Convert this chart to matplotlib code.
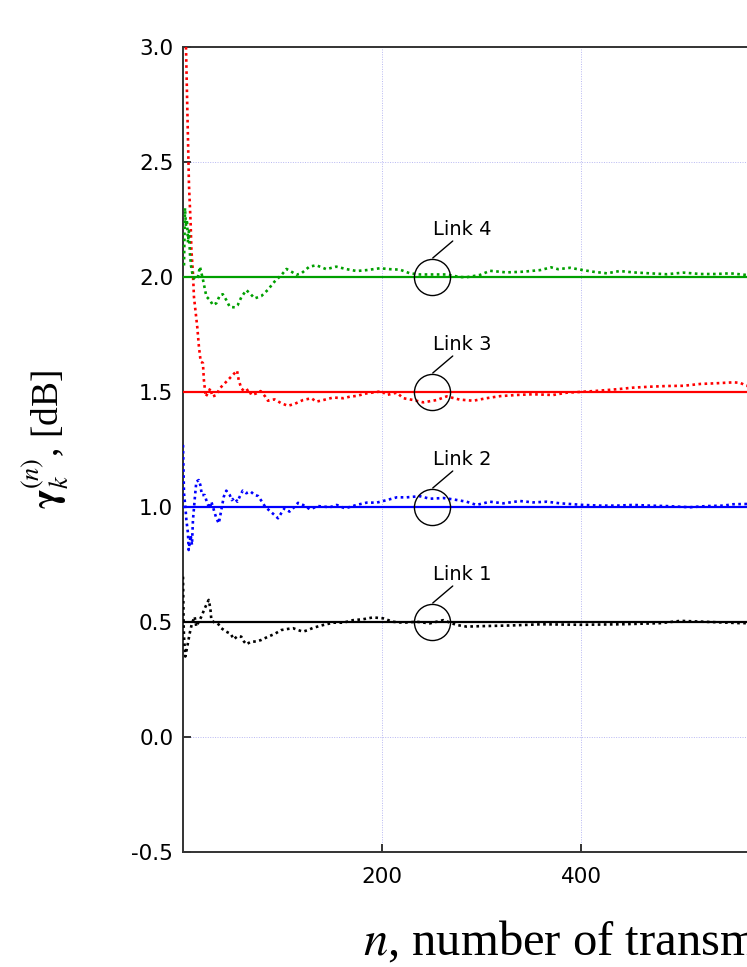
import matplotlib
matplotlib.use("Agg")
import matplotlib.pyplot as plt
from matplotlib.transforms import ScaledTranslation

# ---------------- data ----------------
link4_x = [1, 2, 3, 4, 5, 6, 7, 8, 10, 12, 15, 17, 20, 23.5, 27, 30, 33.5, 37, 40, 43.5, 47, 52, 55, 58.6,
           63.6, 67, 72, 78.7, 85, 92, 99, 104, 109, 114, 119, 127, 134, 144, 154, 164.5, 174.5, 184.6, 198,
           208, 218, 228, 238, 251.6, 265, 278, 285, 298.5, 308.5, 325, 342, 359, 370, 377, 389, 402, 412,
           426, 439, 452.5, 469, 486, 503, 520, 536, 550, 566, 575]
link4_y = [2.05, 2.30, 2.22, 2.25, 2.15, 2.20, 2.10, 2.05, 2.00, 1.99, 2.00, 2.045, 1.99, 1.915, 1.90, 1.878,
           1.886, 1.92, 1.925, 1.90, 1.87, 1.868, 1.878, 1.912, 1.943, 1.93, 1.907, 1.917, 1.943, 1.98, 2.009,
           2.035, 2.023, 2.01, 2.016, 2.045, 2.051, 2.034, 2.045, 2.034, 2.026, 2.03, 2.038, 2.034, 2.032,
           2.016, 2.011, 2.011, 2.011, 2.0, 1.999, 2.009, 2.027, 2.02, 2.023, 2.03, 2.042, 2.034, 2.04, 2.03,
           2.023, 2.016, 2.026, 2.02, 2.016, 2.012, 2.019, 2.013, 2.013, 2.016, 2.009, 2.008]

link3_x = [3, 6, 7.7, 8.4, 10, 11, 14.4, 16, 17.8, 20, 21, 22.8, 25, 27.5, 29.5, 33.5, 37, 42, 48.5, 54.3, 56,
           58.6, 62, 66, 68.7, 73.7, 78, 82.7, 85.4, 92, 98.8, 105.5, 112, 120.6, 129, 134, 141, 151, 161, 168,
           174.5, 184.6, 199.7, 204.7, 214.8, 221.4, 231.5, 241.5, 255, 265, 278, 291.7, 305, 318.6, 335, 352,
           372, 385.6, 402, 419, 436, 452.5, 469, 486, 503, 520, 536, 553, 560, 566, 575]
link3_y = [3.00, 2.40, 2.23, 2.12, 2.016, 1.914, 1.78, 1.697, 1.632, 1.626, 1.552, 1.48, 1.495, 1.516, 1.48,
           1.487, 1.516, 1.538, 1.567, 1.593, 1.552, 1.516, 1.501, 1.512, 1.487, 1.494, 1.504, 1.48, 1.462,
           1.468, 1.451, 1.44, 1.448, 1.465, 1.473, 1.458, 1.465, 1.476, 1.473, 1.48, 1.483, 1.494, 1.503,
           1.487, 1.497, 1.473, 1.465, 1.455, 1.465, 1.481, 1.467, 1.462, 1.473, 1.482, 1.487, 1.49, 1.487,
           1.497, 1.501, 1.506, 1.512, 1.519, 1.523, 1.526, 1.527, 1.535, 1.538, 1.542, 1.54, 1.527, 1.525]

link2_x = [0, 0.5, 1, 2.4, 3.4, 5, 5.7, 7.7, 9, 10, 12, 13.4, 15.8, 17.4, 19, 21.8, 24.4, 26.8, 28.5, 31, 33.5,
           36, 38.5, 41, 43.5, 47, 49, 52, 54.6, 57, 60, 63.6, 68, 72, 75.4, 79.4, 82.7, 87, 92, 95.5, 99, 102,
           107, 112, 115.6, 120.6, 127.6, 135.7, 147.7, 154.5, 162.8, 174.5, 184.6, 194.7, 204.7, 214.8, 224.8,
           238, 248, 261.6, 271.7, 285, 295, 308.5, 322, 338.7, 352, 365.5, 379, 402, 419, 436, 452.5, 469,
           486, 509.5, 526, 543, 553, 566, 575]
link2_y = [1.27, 1.16, 1.06, 1.0, 0.943, 0.886, 0.813, 0.878, 0.835, 0.943, 1.045, 1.11, 1.117, 1.096, 1.052,
           1.052, 1.016, 0.994, 1.023, 0.987, 0.951, 0.929, 0.987, 1.045, 1.071, 1.052, 1.03, 1.04, 1.023,
           1.045, 1.071, 1.06, 1.067, 1.052, 1.048, 1.023, 1.0, 0.984, 0.965, 0.951, 0.975, 0.994, 0.98, 1.0,
           1.018, 1.009, 0.99, 1.004, 0.999, 1.009, 0.994, 1.009, 1.019, 1.019, 1.03, 1.042, 1.042, 1.047,
           1.036, 1.039, 1.033, 1.023, 1.009, 1.023, 1.016, 1.026, 1.02, 1.023, 1.016, 1.009, 1.006, 1.006,
           1.009, 1.006, 1.004, 0.999, 1.004, 1.006, 1.012, 1.013, 1.012]

link1_x = [0, 0.3, 0.6, 1, 2.3, 4.3, 6.7, 9, 11.7, 13.4, 15.8, 18.4, 21.8, 25.8, 27.5, 28.5, 31.8, 35, 38.5,
           43.5, 48, 51, 55, 58.6, 61.3, 63.6, 68.6, 73.7, 78.7, 85.4, 92, 98.8, 105.5, 110.6, 115.6, 120.6,
           125.6, 131, 141, 151, 161, 171, 181, 191, 201, 211, 221.4, 235, 248, 261.6, 275, 285, 300, 330,
           360, 400, 440, 480, 500, 530, 560, 575]
link1_y = [0.697, 0.596, 0.494, 0.436, 0.35, 0.393, 0.45, 0.494, 0.523, 0.48, 0.501, 0.523, 0.559, 0.596,
           0.559, 0.508, 0.497, 0.494, 0.473, 0.458, 0.448, 0.425, 0.439, 0.436, 0.415, 0.403, 0.415, 0.415,
           0.422, 0.436, 0.448, 0.465, 0.47, 0.473, 0.465, 0.458, 0.465, 0.475, 0.487, 0.497, 0.497, 0.508,
           0.512, 0.52, 0.516, 0.501, 0.497, 0.501, 0.494, 0.508, 0.487, 0.48, 0.482, 0.485, 0.49, 0.488,
           0.49, 0.495, 0.505, 0.5, 0.495, 0.495]

targets = [0.5, 1.0, 1.5, 2.0]
link_labels = ["Link 1", "Link 2", "Link 3", "Link 4"]
colors = ["black", "#0000ff", "#ff0000", "#00a000"]
marker_n = 250

x_ticks = [200, 400]
y_ticks = [-0.5, 0.0, 0.5, 1.0, 1.5, 2.0, 2.5, 3.0]

# ---------------- figure ----------------
plt.rcParams['mathtext.fontset'] = 'stix'
fig = plt.figure(figsize=(7.47, 9.67), dpi=100)
W, H = 747, 967
ax = fig.add_axes([183 / W, (H - 852) / H, 995 / W, 805 / H])
ax.set_xlim(0, 1000)
ax.set_ylim(-0.5, 3.0)

ax.set_xticks(x_ticks)
ax.set_yticks(y_ticks)
ax.set_yticklabels([f"{v:.1f}" for v in y_ticks])
ax.grid(True, color="#b8b8f2", linestyle=(0, (1, 1.5)), linewidth=0.7)
ax.set_axisbelow(True)

for s in ax.spines.values():
    s.set_color("#333333")
    s.set_linewidth(1.4)
ax.tick_params(direction="in", length=6, width=1.4, color="#333333",
               labelsize=15.5, labelcolor="black")
ax.tick_params(axis="y", pad=7)
ax.tick_params(axis="x", pad=11)

series = [(link1_x, link1_y), (link2_x, link2_y), (link3_x, link3_y), (link4_x, link4_y)]
for (xs, ys), tgt, c in zip(series, targets, colors):
    ax.axhline(tgt, color=c, linewidth=1.6, zorder=3)
    ax.plot(xs, ys, color=c, linestyle=(0, (1, 1.3)), linewidth=1.9, zorder=4)

dpi = fig.dpi
px = 72 / dpi
start_tr = ax.transData + ScaledTranslation(1 / dpi, 19 / dpi, fig.dpi_scale_trans)
for tgt, lab in zip(targets, link_labels):
    ax.plot([marker_n], [tgt], marker="o", markersize=26, markerfacecolor="none",
            markeredgecolor="black", markeredgewidth=1.0, zorder=5)
    # leader line from the top of the circle up to the right
    ax.annotate("", xy=(marker_n, tgt), xycoords=start_tr,
                xytext=(20 * px, 17 * px), textcoords="offset points",
                arrowprops=dict(arrowstyle="-", color="black", lw=1.0,
                                shrinkA=0, shrinkB=0))
    ax.annotate(lab, xy=(marker_n, tgt), xycoords="data",
                xytext=(1 * px, 42 * px), textcoords="offset points",
                fontsize=14, ha="left", va="baseline")

fig.text(45 / W, 1 - 440 / H, r"$\mathbf{\gamma}_k^{(n)}$, [dB]", rotation=90,
         ha="center", va="center", fontsize=27, family="Liberation Serif")
fig.text(363 / W, 1 - 955 / H, r"$n$, number of transmissions", ha="left", va="baseline",
         fontsize=35, family="Liberation Serif")

fig.savefig("out.png", dpi=100)
